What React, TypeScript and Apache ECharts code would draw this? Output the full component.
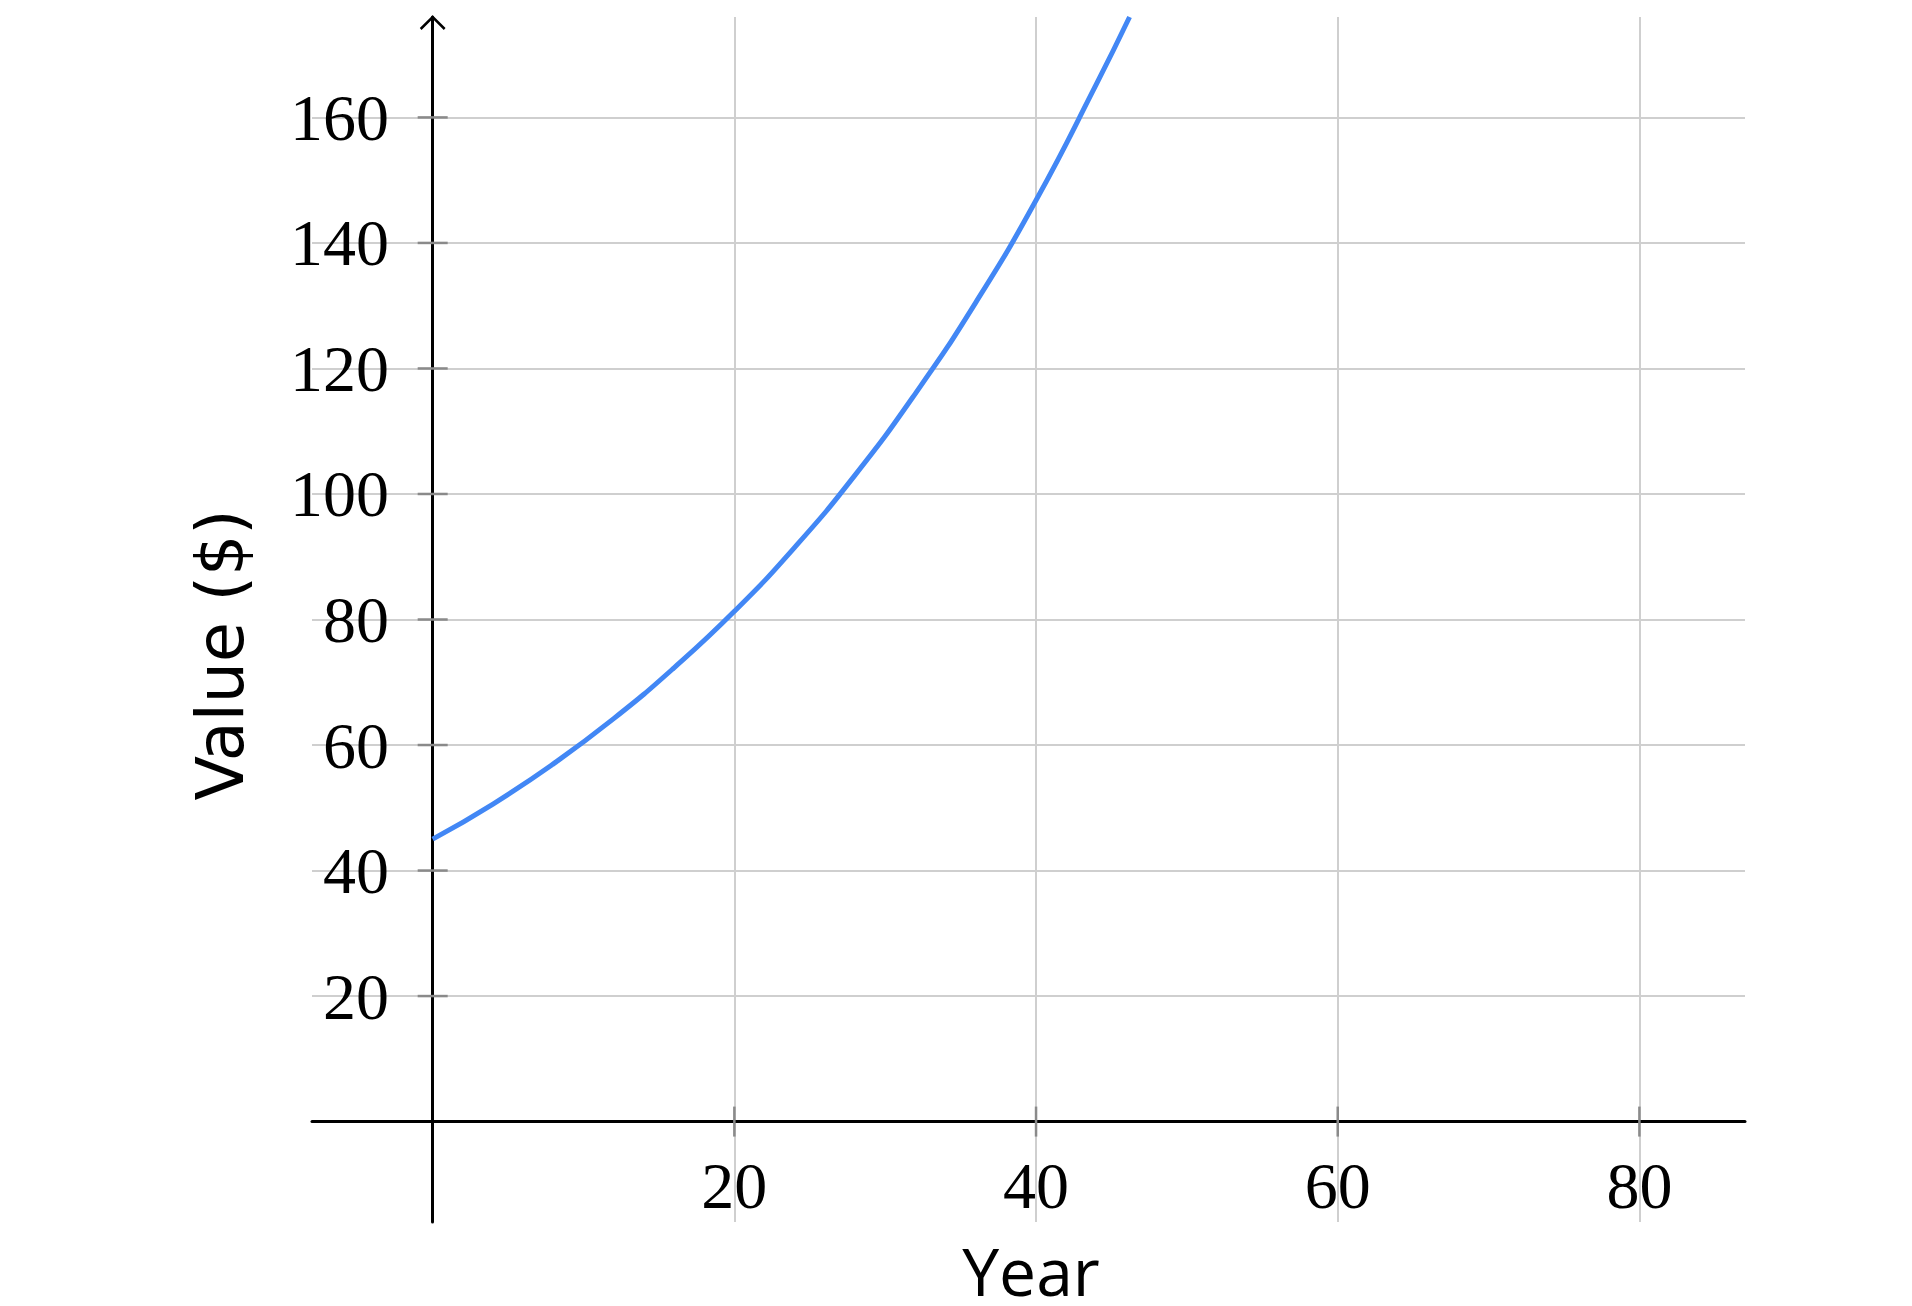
import React, { useEffect, useRef } from "react";
import * as echarts from "echarts";

const years = [0, 4, 8, 12, 16, 20, 24, 28, 32, 36, 40, 44, 46.2];
const values = [45, 50.6, 57, 64.2, 72.3, 81.3, 91.5, 103, 116, 130.5, 146.8, 165.3, 176];
const xTicks = [20, 40, 60, 80];
const yTicks = [20, 40, 60, 80, 100, 120, 140, 160];
const xTitle = "Year";
const yTitle = "Value ($)";

const serif = "'Liberation Serif', 'Times New Roman', serif";

export default function App() {
  const ref = useRef<HTMLDivElement>(null);
  useEffect(() => {
    if (!ref.current) return;
    const chart = echarts.init(ref.current, null, { renderer: "svg" });
    const tickData = [
      ...xTicks.map((v) => [v, 0, 0]),
      ...yTicks.map((v) => [0, v, 1]),
      [0, 176, 2],
    ];
    chart.setOption({
      animation: false,
      backgroundColor: "#ffffff",
      grid: { left: 312, right: 167, top: 17, bottom: 84, containLabel: false },
      xAxis: {
        type: "value",
        min: -8,
        max: 87,
        z: 3,
        axisLine: { onZero: true, lineStyle: { color: "#000", width: 3 } },
        axisTick: { show: false, customValues: xTicks },
        axisLabel: {
          customValues: xTicks,
          fontFamily: serif,
          fontSize: 66,
          color: "#000",
          margin: -70,
        },
        splitLine: { show: true, lineStyle: { color: "#cfcfcf", width: 2 } },
      },
      yAxis: {
        type: "value",
        min: -16,
        max: 176,
        z: 3,
        axisLine: { onZero: true, lineStyle: { color: "#000", width: 3 } },
        axisTick: { show: false, customValues: yTicks },
        axisLabel: {
          customValues: yTicks,
          fontFamily: serif,
          fontSize: 66,
          color: "#000",
          margin: -77,
        },
        splitLine: { show: true, lineStyle: { color: "#cfcfcf", width: 2 } },
      },
      graphic: [
        {
          type: "text",
          x: 1031,
          y: 1270,
          style: {
            text: xTitle,
            fontFamily: "'Open Sans', sans-serif",
            fontSize: 66,
            lineHeight: 50,
            fontWeight: 500,
            fill: "#000",
            align: "center",
            verticalAlign: "middle",
          },
        },
        {
          type: "text",
          x: 220,
          y: 655,
          rotation: Math.PI / 2,
          style: {
            text: yTitle,
            fontFamily: "'DejaVu Sans', sans-serif",
            fontSize: 65,
            fill: "#000",
            align: "center",
            verticalAlign: "middle",
          },
        },
      ],
      series: [
        {
          type: "custom",
          z: 4,
          silent: true,
          data: tickData,
          renderItem: (params: any, api: any) => {
            const p = api.coord([api.value(0), api.value(1)]);
            const kind = api.value(2);
            if (kind === 2) {
              return {
                type: "polyline",
                shape: {
                  points: [
                    [p[0] - 12, p[1] + 12],
                    [p[0], p[1]],
                    [p[0] + 12, p[1] + 12],
                  ],
                },
                style: { stroke: "#000", lineWidth: 2.5, fill: null },
              };
            }
            const shape =
              kind === 0
                ? { x1: p[0], y1: p[1] - 15, x2: p[0], y2: p[1] + 15 }
                : { x1: p[0] - 15, y1: p[1], x2: p[0] + 15, y2: p[1] };
            return {
              type: "line",
              shape,
              style: { stroke: "#8a8a8a", lineWidth: 2.5 },
            };
          },
        },
        {
          type: "line",
          z: 5,
          data: years.map((y, i) => [y, values[i]]),
          smooth: true,
          showSymbol: false,
          lineStyle: { color: "#4287f5", width: 5 },
        },
      ],
    });
    return () => chart.dispose();
  }, []);
  return (
    <div
      ref={ref}
      style={{ position: "absolute", left: 0, top: 0, width: 1912, height: 1306 }}
    />
  );
}
